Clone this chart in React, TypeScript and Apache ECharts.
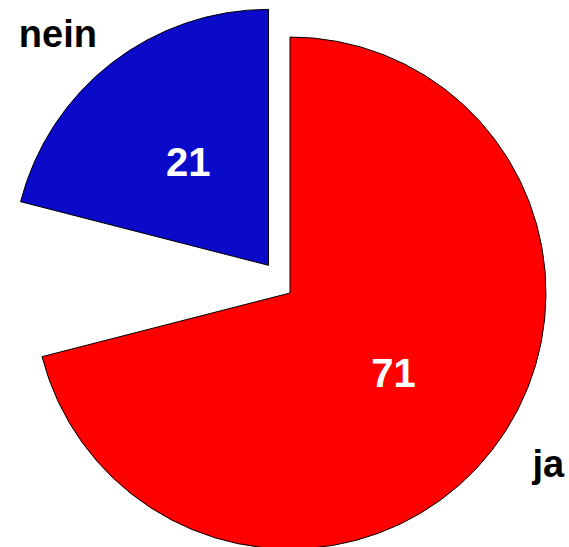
import React, { useEffect, useRef } from "react";
import * as echarts from "echarts";

const categories = ["ja", "Rest", "nein"];
const values = [71, 8, 21];
const colors = ["#ff0000", "transparent", "#0a0ac8"];
const selectedFlags = [false, false, true];

const FONT = "'Liberation Sans', Arial, Helvetica, sans-serif";

export default function App() {
  const ref = useRef<HTMLDivElement>(null);

  useEffect(() => {
    if (!ref.current) return;
    const chart = echarts.init(ref.current, null, { renderer: "svg" });

    const outerLine: Record<string, { length: number; length2: number }> = {
      ja: { length: 23, length2: 17 },
      nein: { length: 37, length2: -13 },
    };

    const mainData = categories.map((name, i) => ({
      name,
      value: values[i],
      selected: selectedFlags[i],
      itemStyle:
        name === "Rest"
          ? { color: "transparent", borderWidth: 0 }
          : { color: colors[i], borderColor: "#000", borderWidth: 1 },
      label: { show: name !== "Rest" },
    }));

    const outerData = categories.map((name, i) => ({
      name,
      value: values[i],
      selected: selectedFlags[i],
      itemStyle: { color: "transparent", borderWidth: 0 },
      label: { show: name !== "Rest" },
      labelLine: outerLine[name] ? { show: false, ...outerLine[name] } : { show: false },
    }));

    const common = {
      type: "pie" as const,
      center: [290, 293],
      radius: 256,
      startAngle: 90,
      clockwise: true,
      selectedMode: "multiple" as const,
      selectedOffset: 35,
      avoidLabelOverlap: false,
      emphasis: { disabled: true },
      silent: true,
    };

    chart.setOption({
      animation: false,
      tooltip: { show: false },
      series: [
        {
          ...common,
          data: mainData,
          label: {
            position: "inside",
            formatter: "{c}",
            color: "#fff",
            fontSize: 40,
            fontWeight: "bold",
            fontFamily: FONT,
          },
          labelLine: { show: false },
        },
        {
          ...common,
          data: outerData,
          label: {
            position: "outside",
            formatter: "{b}",
            color: "#000",
            fontSize: 38,
            fontWeight: "bold",
            fontFamily: FONT,
            bleedMargin: 0,
            overflow: "none",
          },
        },
      ],
    });

    return () => chart.dispose();
  }, []);

  return (
    <div
      ref={ref}
      style={{ position: "absolute", left: 0, top: 0, width: 569, height: 547 }}
    />
  );
}
